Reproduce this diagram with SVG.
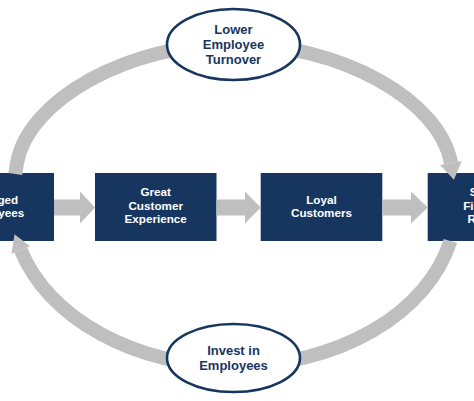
<svg xmlns="http://www.w3.org/2000/svg" width="474" height="401" viewBox="0 0 474 401">
<style>
.box{fill:#17365f;}
.bt{fill:#ffffff;font-family:"Liberation Sans",Arial,sans-serif;font-weight:bold;font-size:11.7px;text-anchor:middle;}
.el{fill:#ffffff;stroke:#17365f;stroke-width:2.6;}
.et{fill:#17365f;font-family:"Liberation Sans",Arial,sans-serif;font-weight:bold;font-size:13px;text-anchor:middle;}
.arc{fill:none;stroke:#bfbfbf;stroke-width:14;}
.ah{fill:#bfbfbf;}
</style>
<rect width="474" height="401" fill="#ffffff"/>
<g id="box-engaged"><rect class="box" x="-67" y="173" width="121" height="68"/><text class="bt" x="-6.5" y="203.5">Engaged</text><text class="bt" x="-6.5" y="217">Employees</text></g>
<g id="box-experience"><rect class="box" x="95" y="173" width="121.5" height="68"/><text class="bt" x="155.7" y="196">Great</text><text class="bt" x="155.7" y="209.5">Customer</text><text class="bt" x="155.7" y="223">Experience</text></g>
<g id="box-loyal"><rect class="box" x="260.7" y="173" width="121.6" height="68"/><text class="bt" x="321.5" y="203.5">Loyal</text><text class="bt" x="321.5" y="217">Customers</text></g>
<g id="box-results"><rect class="box" x="427.7" y="173" width="121.5" height="68"/><text class="bt" x="488.5" y="196">Strong</text><text class="bt" x="488.5" y="209.5">Financial</text><text class="bt" x="488.5" y="223">Results</text></g>
<g id="connectors">
<path class="arc" d="M234 44 C128 44 28 100 17 163 L15.3 174"/>
<path class="arc" d="M234 44 C340 44 440 100 451 163"/>
<polygon class="ah" points="440.2,164.9 461.8,161.1 453.9,179.7"/>
<path class="arc" d="M450.4 241 A222 161 0 0 1 234 366"/>
<path class="arc" d="M234 366 A222 161 0 0 1 20.8 250"/>
<polygon class="ah" points="30.1,246.3 11.5,253.7 14.5,234.2"/>
<polygon class="ah" points="54,199.5 80,199.5 80,191.5 95,207.5 80,223.5 80,215.5 54,215.5"/>
<polygon class="ah" points="216.5,199.5 245,199.5 245,191.5 260.7,207.5 245,223.5 245,215.5 216.5,215.5"/>
<polygon class="ah" points="382.3,199.5 411,199.5 411,191.5 427.7,207.5 411,223.5 411,215.5 382.3,215.5"/>
</g>
<g id="node-turnover"><ellipse class="el" cx="233.5" cy="44.5" rx="66.5" ry="35.5"/><text class="et" x="233.5" y="34">Lower</text><text class="et" x="233.5" y="49">Employee</text><text class="et" x="233.5" y="64">Turnover</text></g>
<g id="node-invest"><ellipse class="el" cx="233.5" cy="358" rx="66.5" ry="34"/><text class="et" x="233.5" y="355">Invest in</text><text class="et" x="233.5" y="370">Employees</text></g>
</svg>
